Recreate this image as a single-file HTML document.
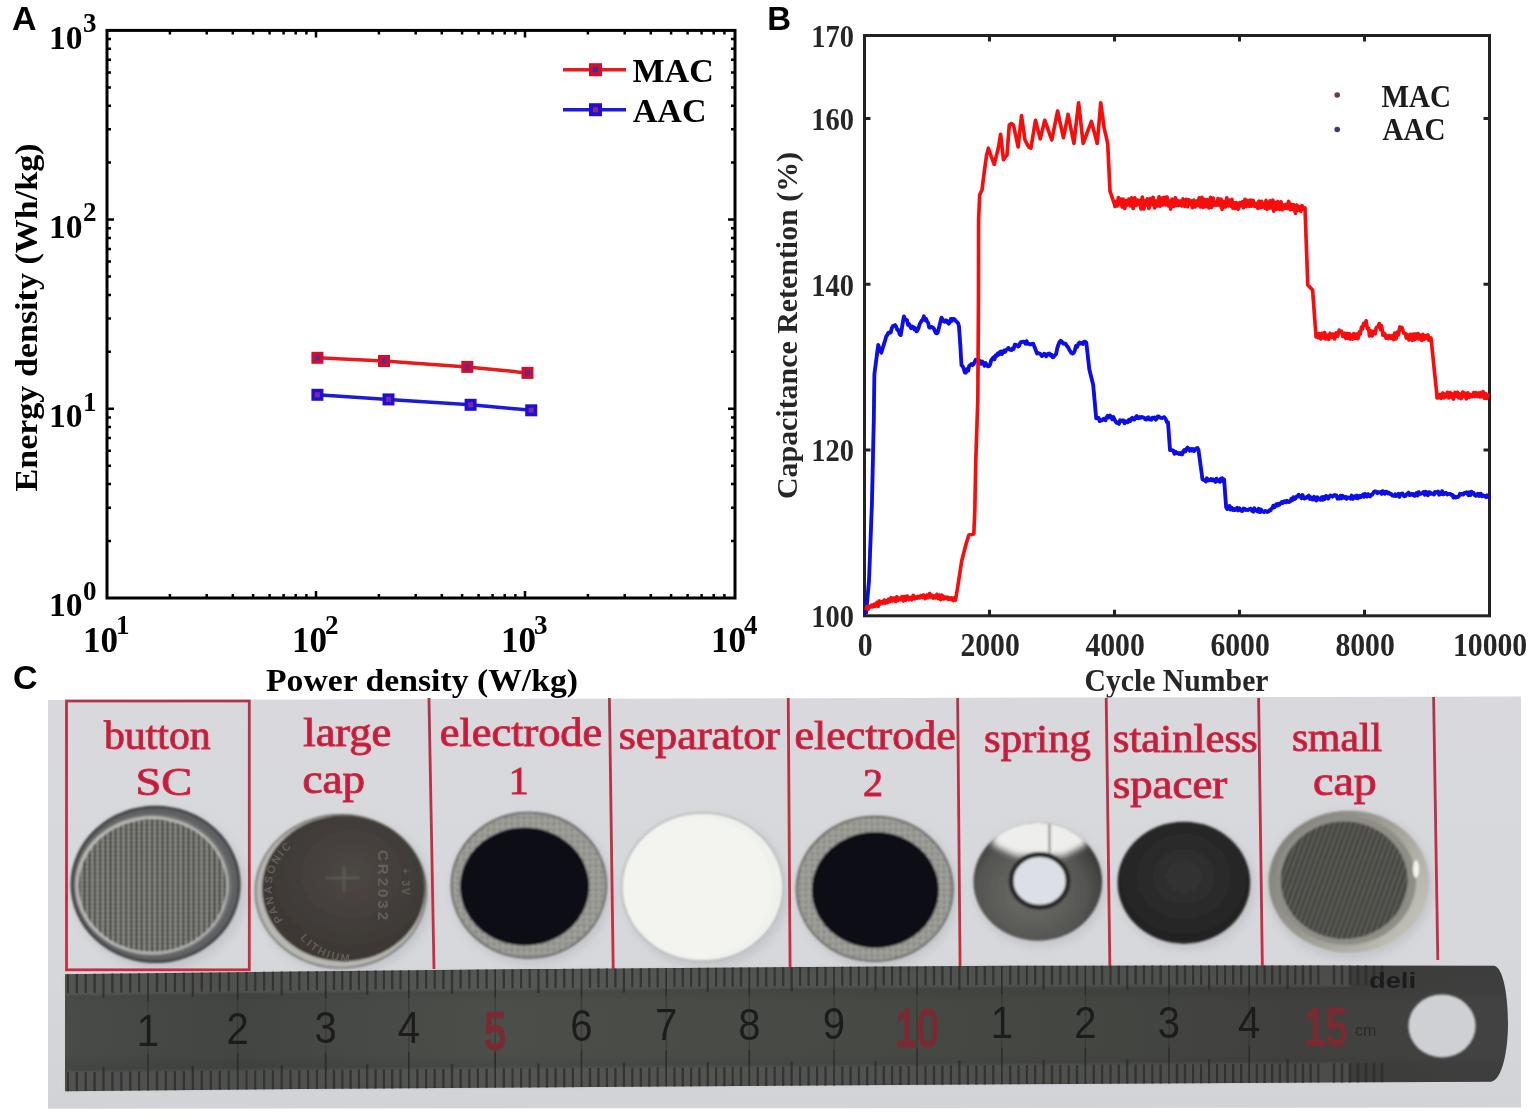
<!DOCTYPE html>
<html><head><meta charset="utf-8"><title>Figure</title>
<style>html,body{margin:0;padding:0;background:#fff;overflow:hidden;}svg{display:block;}</style></head>
<body><svg width="1535" height="1117" viewBox="0 0 1535 1117">
<rect width="1535" height="1117" fill="#fff"/>
<defs><filter id="pblur" x="0" y="0" width="100%" height="100%"><feGaussianBlur stdDeviation="0.45"/></filter></defs>
<g filter="url(#pblur)">
<text x="12" y="30" font-family='"Liberation Sans",Arial,sans-serif' font-weight="bold" font-size="34">A</text>
<rect x="107" y="30.4" width="628" height="567.6" fill="none" stroke="#000" stroke-width="3"/>
<path d="M169.9 598v-4M169.9 30.4v4M206.7 598v-4M206.7 30.4v4M232.8 598v-4M232.8 30.4v4M253.1 598v-4M253.1 30.4v4M269.6 598v-4M269.6 30.4v4M283.6 598v-4M283.6 30.4v4M295.7 598v-4M295.7 30.4v4M306.4 598v-4M306.4 30.4v4M316.0 598v-7M316.0 30.4v7M378.9 598v-4M378.9 30.4v4M415.7 598v-4M415.7 30.4v4M441.8 598v-4M441.8 30.4v4M462.1 598v-4M462.1 30.4v4M478.6 598v-4M478.6 30.4v4M492.6 598v-4M492.6 30.4v4M504.7 598v-4M504.7 30.4v4M515.4 598v-4M515.4 30.4v4M525.0 598v-7M525.0 30.4v7M587.9 598v-4M587.9 30.4v4M624.7 598v-4M624.7 30.4v4M650.8 598v-4M650.8 30.4v4M671.1 598v-4M671.1 30.4v4M687.6 598v-4M687.6 30.4v4M701.6 598v-4M701.6 30.4v4M713.7 598v-4M713.7 30.4v4M724.4 598v-4M724.4 30.4v4M107 541.0h4M735 541.0h-4M107 507.7h4M735 507.7h-4M107 484.1h4M735 484.1h-4M107 465.8h4M735 465.8h-4M107 450.8h4M735 450.8h-4M107 438.1h4M735 438.1h-4M107 427.1h4M735 427.1h-4M107 417.5h4M735 417.5h-4M107 408.8h7M735 408.8h-7M107 351.8h4M735 351.8h-4M107 318.5h4M735 318.5h-4M107 294.9h4M735 294.9h-4M107 276.6h4M735 276.6h-4M107 261.6h4M735 261.6h-4M107 248.9h4M735 248.9h-4M107 237.9h4M735 237.9h-4M107 228.3h4M735 228.3h-4M107 219.6h7M735 219.6h-7M107 162.6h4M735 162.6h-4M107 129.3h4M735 129.3h-4M107 105.7h4M735 105.7h-4M107 87.4h4M735 87.4h-4M107 72.4h4M735 72.4h-4M107 59.7h4M735 59.7h-4M107 48.7h4M735 48.7h-4M107 39.1h4M735 39.1h-4" stroke="#000" stroke-width="2.5" fill="none"/>
<text x="82.4" y="48.6" text-anchor="end" font-family='"Liberation Serif","Times New Roman",serif' font-weight="bold" font-size="33.5">10</text>
<text x="82.9" y="32.2" font-family='"Liberation Serif","Times New Roman",serif' font-weight="bold" font-size="27">3</text>
<text x="82.4" y="237.8" text-anchor="end" font-family='"Liberation Serif","Times New Roman",serif' font-weight="bold" font-size="33.5">10</text>
<text x="82.9" y="221.4" font-family='"Liberation Serif","Times New Roman",serif' font-weight="bold" font-size="27">2</text>
<text x="82.4" y="427.0" text-anchor="end" font-family='"Liberation Serif","Times New Roman",serif' font-weight="bold" font-size="33.5">10</text>
<text x="82.9" y="410.6" font-family='"Liberation Serif","Times New Roman",serif' font-weight="bold" font-size="27">1</text>
<text x="82.4" y="616.2" text-anchor="end" font-family='"Liberation Serif","Times New Roman",serif' font-weight="bold" font-size="33.5">10</text>
<text x="82.9" y="599.8" font-family='"Liberation Serif","Times New Roman",serif' font-weight="bold" font-size="27">0</text>
<text x="83.0" y="652" font-family='"Liberation Serif","Times New Roman",serif' font-weight="bold" font-size="35">10</text>
<text x="116.1" y="633.6" font-family='"Liberation Serif","Times New Roman",serif' font-weight="bold" font-size="27">1</text>
<text x="292.0" y="652" font-family='"Liberation Serif","Times New Roman",serif' font-weight="bold" font-size="35">10</text>
<text x="325.1" y="633.6" font-family='"Liberation Serif","Times New Roman",serif' font-weight="bold" font-size="27">2</text>
<text x="501.0" y="652" font-family='"Liberation Serif","Times New Roman",serif' font-weight="bold" font-size="35">10</text>
<text x="534.1" y="633.6" font-family='"Liberation Serif","Times New Roman",serif' font-weight="bold" font-size="27">3</text>
<text x="711.0" y="652" font-family='"Liberation Serif","Times New Roman",serif' font-weight="bold" font-size="35">10</text>
<text x="744.1" y="633.6" font-family='"Liberation Serif","Times New Roman",serif' font-weight="bold" font-size="27">4</text>
<text x="266" y="691.2" font-family='"Liberation Serif","Times New Roman",serif' font-weight="bold" font-size="32" textLength="312" lengthAdjust="spacingAndGlyphs">Power density (W/kg)</text>
<text transform="translate(36.5 491.5) rotate(-90)" x="0" y="0" font-family='"Liberation Serif","Times New Roman",serif' font-weight="bold" font-size="32" textLength="348" lengthAdjust="spacingAndGlyphs">Energy density (Wh/kg)</text>
<text x="12.9" y="688.7" font-family='"Liberation Sans",Arial,sans-serif' font-weight="bold" font-size="34">C</text>
<polyline points="317.4,357.8 384,361 467.3,366.9 527.5,372.9" fill="none" stroke="#e41a1a" stroke-width="3.5" stroke-linejoin="round"/>
<polyline points="317.4,394.8 388.5,399.4 470.6,404.8 531.2,410.3" fill="none" stroke="#1a1ad8" stroke-width="3.5" stroke-linejoin="round"/>
<rect x="311.4" y="351.8" width="12" height="12" fill="#d4102e"/><rect x="314.9" y="355.3" width="5" height="5" fill="#5a2a90"/>
<rect x="378" y="355" width="12" height="12" fill="#d4102e"/><rect x="381.5" y="358.5" width="5" height="5" fill="#5a2a90"/>
<rect x="461.3" y="360.9" width="12" height="12" fill="#d4102e"/><rect x="464.8" y="364.4" width="5" height="5" fill="#5a2a90"/>
<rect x="521.5" y="366.9" width="12" height="12" fill="#d4102e"/><rect x="525.0" y="370.4" width="5" height="5" fill="#5a2a90"/>
<rect x="311.4" y="388.8" width="12" height="12" fill="#2410d8"/><rect x="314.9" y="392.3" width="5" height="5" fill="#7a2a9a"/>
<rect x="382.5" y="393.4" width="12" height="12" fill="#2410d8"/><rect x="386.0" y="396.9" width="5" height="5" fill="#7a2a9a"/>
<rect x="464.6" y="398.8" width="12" height="12" fill="#2410d8"/><rect x="468.1" y="402.3" width="5" height="5" fill="#7a2a9a"/>
<rect x="525.2" y="404.3" width="12" height="12" fill="#2410d8"/><rect x="528.7" y="407.8" width="5" height="5" fill="#7a2a9a"/>
<path d="M563 69.7H626" stroke="#e41a1a" stroke-width="3.5"/><rect x="589" y="63.2" width="13" height="13" fill="#d4102e"/><rect x="593" y="67.2" width="5" height="5" fill="#3a2aa0"/>
<path d="M563 109.7H626" stroke="#1a1ad8" stroke-width="3.5"/><rect x="589" y="103.2" width="13" height="13" fill="#2410d8"/><rect x="593" y="107.2" width="5" height="5" fill="#8a2a7a"/>
<text x="632.5" y="82.3" font-family='"Liberation Serif","Times New Roman",serif' font-weight="bold" font-size="34">MAC</text>
<text x="632.8" y="122" font-family='"Liberation Serif","Times New Roman",serif' font-weight="bold" font-size="34">AAC</text>
<text x="767.3" y="29.7" font-family='"Liberation Sans",Arial,sans-serif' font-weight="bold" font-size="33">B</text>
<rect x="864.5" y="35.5" width="625.0" height="580.3" fill="none" stroke="#222" stroke-width="3"/>
<path d="M989.5 615.8v-6M989.5 35.5v6M1114.5 615.8v-6M1114.5 35.5v6M1239.5 615.8v-6M1239.5 35.5v6M1364.5 615.8v-6M1364.5 35.5v6M864.5 450.0h6M1489.5 450.0h-6M864.5 284.2h6M1489.5 284.2h-6M864.5 118.4h6M1489.5 118.4h-6" stroke="#222" stroke-width="3" fill="none"/>
<text transform="translate(854 627.1) scale(0.875 1)" text-anchor="end" font-family='"Liberation Serif","Times New Roman",serif' font-weight="bold" font-size="32.5" fill="#262626">100</text>
<text transform="translate(854 461.3) scale(0.875 1)" text-anchor="end" font-family='"Liberation Serif","Times New Roman",serif' font-weight="bold" font-size="32.5" fill="#262626">120</text>
<text transform="translate(854 295.5) scale(0.875 1)" text-anchor="end" font-family='"Liberation Serif","Times New Roman",serif' font-weight="bold" font-size="32.5" fill="#262626">140</text>
<text transform="translate(854 129.7) scale(0.875 1)" text-anchor="end" font-family='"Liberation Serif","Times New Roman",serif' font-weight="bold" font-size="32.5" fill="#262626">160</text>
<text transform="translate(854 46.8) scale(0.875 1)" text-anchor="end" font-family='"Liberation Serif","Times New Roman",serif' font-weight="bold" font-size="32.5" fill="#262626">170</text>
<text transform="translate(865.1 656) scale(0.9 1)" text-anchor="middle" font-family='"Liberation Serif","Times New Roman",serif' font-weight="bold" font-size="33" fill="#262626">0</text>
<text transform="translate(990.1 656) scale(0.9 1)" text-anchor="middle" font-family='"Liberation Serif","Times New Roman",serif' font-weight="bold" font-size="33" fill="#262626">2000</text>
<text transform="translate(1115.1 656) scale(0.9 1)" text-anchor="middle" font-family='"Liberation Serif","Times New Roman",serif' font-weight="bold" font-size="33" fill="#262626">4000</text>
<text transform="translate(1240.1 656) scale(0.9 1)" text-anchor="middle" font-family='"Liberation Serif","Times New Roman",serif' font-weight="bold" font-size="33" fill="#262626">6000</text>
<text transform="translate(1365.1 656) scale(0.9 1)" text-anchor="middle" font-family='"Liberation Serif","Times New Roman",serif' font-weight="bold" font-size="33" fill="#262626">8000</text>
<text transform="translate(1490.1 656) scale(0.9 1)" text-anchor="middle" font-family='"Liberation Serif","Times New Roman",serif' font-weight="bold" font-size="33" fill="#262626">10000</text>
<text x="1084.5" y="691.3" font-family='"Liberation Serif","Times New Roman",serif' font-weight="bold" font-size="32" fill="#262626" textLength="184" lengthAdjust="spacingAndGlyphs">Cycle Number</text>
<text transform="translate(797 499) rotate(-90)" x="0" y="0" font-family='"Liberation Serif","Times New Roman",serif' font-weight="bold" font-size="30" fill="#262626" textLength="347" lengthAdjust="spacingAndGlyphs">Capacitance Retention (%)</text>
<circle cx="1337.2" cy="95" r="2.8" fill="#6a3a48"/><circle cx="1337.2" cy="129.5" r="2.8" fill="#3a3a6a"/>
<text transform="translate(1381.5 106.5) scale(0.94 1)" font-family='"Liberation Serif","Times New Roman",serif' font-weight="bold" font-size="31" fill="#1a1a1a">MAC</text>
<text transform="translate(1382.5 140.2) scale(0.94 1)" font-family='"Liberation Serif","Times New Roman",serif' font-weight="bold" font-size="31" fill="#1a1a1a">AAC</text>
<polyline points="866.0,614.0 867.0,603.0 868.0,592.0 869.0,581.0 870.0,554.3 871.0,527.7 872.0,501.0 873.8,420.0 874.4,374.0 875.7,364.3 876.9,354.7 878.2,345.0 879.2,347.6 880.3,350.8 881.3,352.7 882.3,349.4 883.3,346.2 884.3,342.9 885.3,339.7 886.3,336.4 887.4,334.7 888.5,332.6 889.6,332.8 890.7,332.5 891.8,328.2 892.9,326.1 894.0,325.9 895.1,325.1 896.2,326.8 897.3,329.8 898.5,329.9 899.6,334.3 900.7,335.1 901.8,328.8 902.8,322.6 903.9,316.3 904.9,318.9 906.0,319.7 907.0,320.2 908.0,324.9 909.1,324.0 910.1,326.4 911.2,328.2 912.2,326.4 913.3,326.9 914.4,329.6 915.5,328.2 916.5,331.4 917.6,330.1 918.6,327.8 919.7,324.2 920.8,322.1 921.8,320.6 922.9,319.3 923.9,316.3 925.0,320.0 926.0,318.7 927.0,321.5 928.1,322.7 929.2,327.6 930.2,327.6 931.3,326.9 932.3,327.2 933.4,328.0 934.5,330.0 935.6,332.8 936.6,333.4 937.7,332.6 939.0,327.6 940.2,322.6 941.5,317.6 942.5,319.4 943.6,321.3 944.6,321.8 945.6,320.3 946.7,320.5 947.7,322.6 948.8,323.7 949.8,322.4 950.9,318.9 951.9,320.8 953.0,319.0 954.0,318.9 955.0,319.9 956.0,321.2 957.0,322.1 958.0,322.9 959.0,326.4 960.3,345.2 961.5,365.2 962.6,366.2 963.7,368.4 964.8,372.6 965.9,372.7 967.0,369.3 968.1,370.8 969.2,365.9 970.3,365.2 971.4,363.9 972.4,365.1 973.5,364.3 974.6,362.1 975.7,359.8 976.7,360.8 977.8,360.2 978.9,360.2 980.0,361.3 981.1,363.7 982.3,361.5 983.4,362.9 984.5,365.7 985.6,363.0 986.8,365.2 987.9,366.3 989.0,366.1 990.1,364.5 991.2,360.2 992.3,358.8 993.3,357.4 994.4,359.4 995.5,355.4 996.6,355.9 997.7,353.5 998.8,354.7 999.8,352.1 1000.9,351.5 1002.0,353.9 1003.1,352.1 1004.1,350.4 1005.2,351.8 1006.3,349.9 1007.4,349.3 1008.4,347.9 1009.5,349.5 1010.6,349.9 1011.6,350.0 1012.7,348.2 1013.7,348.9 1014.8,344.6 1015.9,344.8 1016.9,345.2 1018.0,346.5 1019.1,345.9 1020.1,343.0 1021.2,341.9 1022.2,342.0 1023.3,341.7 1024.4,341.9 1025.5,343.8 1026.6,341.1 1027.7,343.8 1028.8,343.7 1029.9,344.3 1031.0,344.3 1032.1,343.8 1033.2,343.6 1034.5,346.9 1035.8,350.2 1037.1,353.5 1038.3,353.2 1039.5,353.5 1040.6,354.1 1041.8,356.1 1043.0,355.4 1044.1,353.7 1045.1,354.2 1046.2,356.4 1047.3,354.4 1048.4,353.7 1049.4,353.5 1050.5,355.6 1051.6,354.7 1052.7,357.3 1053.7,356.9 1054.8,355.4 1056.0,354.4 1057.2,348.6 1058.3,344.9 1059.5,342.0 1060.7,340.7 1061.9,341.7 1063.1,343.5 1064.2,343.4 1065.4,343.6 1066.6,345.6 1067.8,346.8 1069.0,349.2 1070.1,351.0 1071.3,352.9 1072.5,353.5 1073.7,352.9 1074.9,350.2 1076.0,346.0 1077.2,346.9 1078.4,343.6 1079.5,342.6 1080.7,343.6 1081.8,342.7 1082.9,344.0 1084.0,341.7 1085.2,341.7 1086.3,342.6 1087.3,351.5 1088.3,360.3 1089.3,369.2 1090.6,374.5 1091.9,379.7 1093.2,385.0 1094.2,396.1 1095.2,407.3 1096.2,418.4 1097.4,417.8 1098.6,417.8 1099.7,421.1 1100.9,420.3 1102.1,420.4 1103.2,419.0 1104.4,418.6 1105.5,420.3 1106.6,417.6 1107.7,415.8 1108.9,417.4 1110.0,415.5 1111.1,417.1 1112.2,419.4 1113.3,416.9 1114.5,419.3 1115.6,421.7 1116.7,422.8 1117.8,422.4 1118.9,423.9 1120.1,420.3 1121.2,421.1 1122.3,420.3 1123.4,420.4 1124.6,423.4 1125.7,421.4 1126.8,421.3 1127.9,422.3 1129.0,419.6 1130.1,421.1 1131.1,419.0 1132.2,417.8 1133.3,419.5 1134.4,419.7 1135.5,417.5 1136.6,416.1 1137.6,418.2 1138.7,418.4 1139.7,417.0 1140.8,417.7 1141.9,416.9 1142.9,417.3 1144.0,417.7 1145.1,419.2 1146.1,419.6 1147.2,417.9 1148.2,417.3 1149.3,419.4 1150.4,418.6 1151.4,419.8 1152.5,417.7 1153.5,418.1 1154.6,417.5 1155.7,419.7 1156.7,418.6 1157.8,416.5 1158.9,416.5 1159.9,417.5 1161.0,418.0 1162.0,418.2 1163.1,417.5 1164.3,417.1 1165.5,418.6 1166.8,422.0 1168.0,422.4 1169.0,436.2 1170.0,450.0 1171.1,450.1 1172.2,450.1 1173.3,450.7 1174.5,453.8 1175.6,451.7 1176.7,453.2 1177.8,452.8 1178.9,453.9 1180.0,453.0 1181.1,454.3 1182.2,454.3 1183.3,451.2 1184.3,450.0 1185.4,451.5 1186.5,448.9 1187.6,447.6 1188.7,449.0 1189.8,450.7 1190.9,448.9 1192.0,450.6 1193.1,449.1 1194.1,451.1 1195.2,449.5 1196.3,448.4 1197.4,447.9 1198.5,450.0 1199.5,457.4 1200.5,464.8 1201.5,472.1 1202.5,479.5 1203.6,479.8 1204.7,480.3 1205.8,481.5 1206.9,478.3 1207.9,480.5 1209.0,479.7 1210.1,480.3 1211.2,479.0 1212.3,480.5 1213.4,479.5 1214.4,480.4 1215.5,481.9 1216.6,478.6 1217.7,480.0 1218.7,481.2 1219.8,481.7 1220.9,478.6 1222.0,478.2 1223.0,481.4 1224.1,479.5 1225.1,493.2 1226.1,507.0 1227.2,509.1 1228.3,507.4 1229.4,505.9 1230.5,509.6 1231.6,507.7 1232.7,510.0 1233.8,509.0 1234.9,510.1 1236.0,509.0 1237.1,507.8 1238.2,510.4 1239.3,508.2 1240.4,509.1 1241.4,510.9 1242.5,511.0 1243.6,508.5 1244.7,508.8 1245.8,510.0 1246.9,509.6 1247.9,510.1 1249.0,509.6 1250.1,508.6 1251.2,509.1 1252.2,511.0 1253.3,511.7 1254.4,508.3 1255.4,510.4 1256.5,510.2 1257.6,511.4 1258.7,508.7 1259.8,512.1 1260.9,509.4 1262.0,511.5 1263.0,511.5 1264.1,512.0 1265.2,510.9 1266.3,511.5 1267.4,512.0 1268.4,511.6 1269.4,510.2 1270.4,510.4 1271.4,508.8 1272.4,508.0 1273.4,505.6 1274.4,507.3 1275.4,506.0 1276.4,504.2 1277.4,505.6 1278.4,503.8 1279.5,504.7 1280.6,503.3 1281.7,502.0 1282.8,503.0 1283.8,501.3 1284.9,501.2 1286.0,502.3 1287.1,500.7 1288.2,501.9 1289.3,502.0 1290.3,501.3 1291.4,498.6 1292.4,500.2 1293.5,497.2 1294.5,499.0 1295.6,498.4 1296.6,496.5 1297.6,496.5 1298.6,494.7 1299.6,496.5 1300.6,496.0 1301.6,498.3 1302.6,495.0 1303.6,497.9 1304.6,498.5 1305.6,497.4 1306.6,497.8 1307.6,496.5 1308.7,495.6 1309.8,499.0 1310.9,497.3 1312.0,499.4 1313.0,499.6 1314.1,496.8 1315.2,499.6 1316.3,500.5 1317.4,497.3 1318.5,499.3 1319.6,498.4 1320.7,499.8 1321.8,497.1 1322.9,499.8 1324.0,497.0 1325.0,498.9 1326.1,495.9 1327.2,497.1 1328.3,498.5 1329.4,496.5 1330.4,495.4 1331.4,495.7 1332.5,496.7 1333.5,496.0 1334.5,494.9 1335.5,495.6 1336.5,495.5 1337.5,498.7 1338.6,497.7 1339.6,498.6 1340.6,495.8 1341.6,498.3 1342.6,495.7 1343.6,497.4 1344.7,497.9 1345.7,496.8 1346.7,498.9 1347.7,497.5 1348.7,497.6 1349.7,497.6 1350.7,498.7 1351.7,495.5 1352.8,498.9 1353.8,497.4 1354.8,496.3 1355.8,497.8 1356.8,495.6 1357.8,498.4 1358.8,496.6 1359.8,495.7 1360.8,497.2 1361.9,495.8 1362.9,494.6 1363.9,496.8 1364.9,493.9 1365.9,495.6 1366.9,496.6 1368.0,494.1 1369.0,495.4 1370.1,496.5 1371.1,494.7 1372.2,494.7 1373.2,493.1 1374.2,491.6 1375.3,491.4 1376.3,491.6 1377.4,493.2 1378.4,492.2 1379.5,492.3 1380.5,492.0 1381.6,493.9 1382.6,491.1 1383.7,491.8 1384.8,493.8 1385.8,491.6 1386.9,491.8 1388.0,493.5 1389.0,492.8 1390.1,494.1 1391.2,493.9 1392.2,495.6 1393.3,495.6 1394.3,495.9 1395.3,494.3 1396.3,495.9 1397.4,495.2 1398.4,493.8 1399.4,496.9 1400.4,494.1 1401.4,493.7 1402.4,493.4 1403.4,495.5 1404.5,496.4 1405.5,495.9 1406.5,494.3 1407.5,493.7 1408.5,492.6 1409.5,495.1 1410.6,494.7 1411.6,493.8 1412.6,494.9 1413.6,494.0 1414.6,495.9 1415.6,495.1 1416.6,493.1 1417.7,495.6 1418.7,492.1 1419.7,494.0 1420.7,493.8 1421.7,493.4 1422.7,492.7 1423.8,491.9 1424.8,494.8 1425.8,491.7 1426.8,493.8 1427.8,495.3 1428.9,492.1 1429.9,492.3 1430.9,493.9 1431.9,493.4 1432.9,493.9 1434.0,494.6 1435.0,492.0 1436.0,492.5 1437.0,492.4 1438.0,491.4 1439.1,494.7 1440.1,494.2 1441.1,493.9 1442.1,491.1 1443.1,494.4 1444.2,494.0 1445.2,492.8 1446.2,492.9 1447.2,494.5 1448.3,494.0 1449.3,493.8 1450.4,493.9 1451.4,495.1 1452.5,495.0 1453.5,497.5 1454.6,496.4 1455.7,497.6 1456.8,496.9 1457.9,497.0 1459.0,496.0 1460.0,493.8 1461.1,494.5 1462.2,493.6 1463.3,494.5 1464.4,492.9 1465.4,493.1 1466.5,492.2 1467.5,493.8 1468.5,495.2 1469.5,492.3 1470.6,495.1 1471.6,491.7 1472.6,492.8 1473.6,492.9 1474.7,495.0 1475.7,495.9 1476.7,495.2 1477.7,493.7 1478.8,496.0 1479.8,493.9 1480.8,493.7 1481.8,496.4 1482.8,495.4 1483.9,495.8 1484.9,495.8 1485.9,497.2 1487.0,495.3 1488.0,496.8 1489.0,495.6" fill="none" stroke="#0808e8" stroke-width="3.8" stroke-linejoin="round"/>
<polyline points="866.0,610.2 867.0,606.5 868.0,609.4 869.2,606.4 870.5,606.9 871.7,605.1 872.7,606.9 874.3,604.2 875.4,606.4 877.0,602.4 878.2,606.3 879.2,601.1 880.3,603.9 881.3,601.6 882.9,603.1 884.2,600.0 885.4,603.1 886.4,600.5 887.5,602.7 888.7,599.2 890.1,601.5 891.2,597.7 892.7,600.8 894.0,598.0 895.6,601.5 896.8,596.8 897.8,600.6 899.3,598.2 900.5,599.5 902.0,596.7 903.3,601.0 904.5,596.6 905.9,600.1 907.1,596.0 908.8,599.6 910.2,597.3 911.7,599.7 913.3,595.4 914.5,598.9 915.9,596.8 917.2,598.2 918.2,596.5 919.7,597.8 920.8,595.6 922.4,597.4 923.6,595.0 925.2,598.7 926.8,595.2 928.1,597.5 929.7,593.5 930.7,597.0 931.8,595.2 933.1,598.1 934.2,596.0 935.4,597.9 936.8,594.3 938.2,598.6 939.6,595.2 940.6,599.7 942.1,595.1 943.6,599.0 944.8,597.0 946.2,598.6 947.2,597.1 948.2,599.4 949.2,597.8 950.2,599.2 951.4,598.0 953.0,600.6 954.0,597.8 955.5,600.0 957.7,587.0 961.7,561.0 965.8,545.0 968.8,535.0 973.8,534.0 974.8,511.0 975.8,460.0 977.8,400.0 978.5,300.0 978.6,220.0 979.7,194.7 982.0,190.0 984.3,171.5 986.6,155.2 988.4,148.2 990.7,155.2 992.5,159.8 994.2,164.5 996.2,156.3 998.3,148.2 1000.6,134.2 1003.5,159.8 1005.2,157.0 1007.0,155.2 1009.3,124.9 1011.3,123.5 1013.4,124.9 1015.8,135.9 1018.1,147.0 1019.8,131.3 1021.5,115.6 1023.2,127.8 1025.0,140.0 1027.0,144.0 1028.9,147.2 1030.9,148.2 1033.2,134.2 1035.5,120.3 1037.8,129.6 1040.2,138.9 1042.5,129.6 1044.8,120.3 1046.5,125.2 1048.3,130.2 1050.0,135.1 1051.8,140.0 1053.7,130.3 1055.7,120.7 1057.6,111.0 1059.5,119.9 1061.5,128.8 1063.4,137.7 1065.8,126.0 1068.1,114.4 1070.0,124.1 1072.0,133.8 1073.9,143.5 1076.2,123.2 1078.6,102.8 1080.9,123.2 1083.2,143.5 1084.8,139.1 1086.5,134.7 1088.1,130.2 1089.8,125.8 1091.4,121.4 1093.3,128.8 1095.3,136.1 1097.2,143.5 1099.0,123.2 1100.7,102.8 1102.5,115.6 1104.2,128.4 1106.0,135.9 1107.7,143.5 1110.0,191.2 1114.7,205.0 1115.0,206.6 1116.3,201.3 1117.3,205.9 1118.4,197.6 1119.4,204.4 1121.1,199.1 1122.1,206.9 1123.0,199.1 1124.7,208.5 1126.2,200.5 1127.4,205.1 1128.9,199.1 1130.4,205.9 1131.5,197.7 1133.2,208.5 1134.7,197.7 1136.2,205.4 1137.5,200.0 1138.4,204.4 1139.6,200.5 1141.0,209.0 1142.3,197.1 1143.9,209.0 1145.1,200.7 1146.2,205.2 1147.3,198.7 1148.9,208.4 1150.2,198.5 1151.7,204.7 1153.1,197.2 1154.7,208.0 1155.9,200.9 1157.5,205.9 1159.0,196.9 1160.2,206.2 1161.9,198.2 1162.9,204.9 1163.9,197.3 1165.5,205.0 1167.0,196.9 1168.5,206.0 1169.8,201.1 1170.7,209.1 1172.1,199.1 1173.8,206.4 1175.4,197.7 1176.4,205.5 1177.6,200.6 1178.9,205.5 1180.2,201.1 1181.8,206.0 1183.1,198.9 1184.7,206.3 1186.3,199.3 1187.6,206.8 1188.6,199.6 1189.6,204.3 1191.1,200.9 1192.4,207.8 1193.8,200.1 1195.1,207.0 1196.6,201.2 1198.0,205.5 1199.1,197.9 1200.4,207.0 1201.9,197.3 1203.1,207.4 1204.5,199.4 1205.9,206.7 1207.2,199.6 1208.9,208.0 1210.5,197.4 1211.6,207.4 1213.2,198.0 1214.2,205.3 1215.5,201.9 1216.6,205.2 1218.0,198.5 1219.6,205.7 1221.1,199.2 1222.1,209.4 1223.8,201.5 1225.4,207.1 1226.7,197.7 1228.3,206.0 1229.5,200.2 1230.7,206.2 1231.9,199.2 1232.8,208.1 1234.1,202.8 1235.2,208.5 1236.5,202.7 1238.2,209.4 1239.9,202.6 1241.0,205.8 1242.5,201.8 1243.5,207.8 1245.1,199.2 1246.3,206.5 1247.9,200.5 1249.3,206.3 1250.3,200.0 1251.5,206.3 1253.2,200.4 1254.7,206.5 1256.3,203.3 1257.9,208.4 1259.0,201.0 1260.7,207.6 1261.7,201.3 1262.8,207.0 1263.8,203.8 1264.9,208.1 1266.0,200.4 1267.2,209.2 1268.2,202.6 1269.1,208.1 1270.1,200.8 1271.4,208.0 1272.7,200.0 1273.7,211.2 1274.9,202.3 1276.5,209.3 1277.8,201.6 1279.5,209.3 1281.0,201.7 1282.4,209.8 1283.6,205.1 1284.6,208.3 1286.1,204.3 1287.2,208.5 1288.7,201.4 1290.2,209.7 1291.3,204.4 1292.5,209.2 1293.8,204.8 1295.4,213.5 1296.8,205.1 1298.4,210.4 1299.6,206.5 1300.8,211.4 1302.1,205.6 1303.4,209.2 1305.0,208.0 1307.8,285.0 1312.6,290.0 1316.0,336.0 1316.0,337.0 1317.2,335.2 1318.1,337.6 1319.2,333.6 1320.6,338.9 1322.0,333.3 1323.6,337.9 1324.7,332.5 1325.8,338.9 1327.2,335.3 1328.7,339.4 1330.1,333.3 1331.7,337.3 1333.0,334.0 1334.6,339.0 1336.1,332.8 1337.7,336.1 1339.2,330.2 1340.1,332.3 1341.3,331.1 1342.9,336.6 1344.3,333.1 1345.7,338.3 1346.6,333.2 1348.1,338.4 1349.4,333.7 1350.4,339.1 1351.5,335.4 1352.6,339.1 1353.7,333.5 1355.4,338.4 1356.6,334.1 1358.0,338.6 1359.4,331.8 1360.4,333.8 1361.5,327.1 1362.6,328.9 1363.6,323.2 1364.7,325.2 1366.1,320.8 1367.3,328.5 1368.5,328.0 1369.5,335.9 1370.6,330.8 1372.2,336.0 1373.5,331.4 1375.2,333.7 1376.3,327.6 1377.9,326.7 1379.3,323.5 1380.6,329.9 1381.6,325.7 1382.9,335.3 1384.4,333.3 1386.0,338.2 1386.9,335.7 1388.2,338.6 1389.4,335.5 1390.6,338.3 1392.1,335.9 1393.6,339.7 1394.6,333.0 1396.1,338.8 1397.2,332.1 1398.4,335.0 1399.8,326.9 1401.1,329.3 1402.0,327.5 1403.6,333.1 1405.2,333.2 1406.3,338.1 1407.4,334.7 1409.0,340.0 1410.6,334.3 1412.2,340.3 1413.5,334.1 1414.5,339.7 1415.8,334.0 1417.2,338.4 1418.1,333.5 1419.1,339.0 1420.3,335.3 1421.8,340.5 1422.9,334.3 1424.0,339.3 1425.3,335.8 1426.3,338.3 1427.9,334.8 1429.0,340.3 1431.0,338.0 1436.6,392.0 1437.0,398.0 1438.0,394.7 1439.0,397.7 1440.0,394.5 1441.1,398.3 1442.7,393.0 1443.9,397.8 1445.2,394.0 1446.4,396.7 1447.5,392.3 1448.6,397.9 1450.0,392.5 1451.0,397.2 1452.1,393.8 1453.4,399.2 1455.0,392.4 1455.9,396.4 1457.4,392.3 1458.6,398.0 1459.5,393.7 1461.2,398.6 1462.8,392.0 1463.9,396.5 1464.9,393.2 1466.3,398.9 1467.8,392.8 1469.3,397.4 1470.7,394.5 1472.2,396.7 1473.8,392.7 1474.9,396.4 1476.1,392.7 1477.5,396.3 1478.5,393.0 1479.8,397.0 1480.9,392.7 1481.8,396.7 1483.1,391.6 1484.5,398.4 1485.8,393.7 1486.9,398.5 1488.4,393.4" fill="none" stroke="#f80808" stroke-width="3.6" stroke-linejoin="round"/>
</g>
<defs>
<linearGradient id="bg" x1="0" y1="0" x2="0" y2="1">
 <stop offset="0" stop-color="#d9d9dd"/><stop offset="0.6" stop-color="#d6d8dc"/><stop offset="1" stop-color="#d2d3d6"/></linearGradient>
<filter id="blur1" x="-10%" y="-10%" width="120%" height="120%"><feGaussianBlur stdDeviation="0.9"/></filter>
<filter id="blur05" x="-5%" y="-5%" width="110%" height="110%"><feGaussianBlur stdDeviation="0.6"/></filter>
<filter id="shadow" x="-30%" y="-30%" width="160%" height="160%"><feGaussianBlur stdDeviation="5"/></filter><filter id="blur3" x="-30%" y="-30%" width="160%" height="160%"><feGaussianBlur stdDeviation="3"/></filter>
<pattern id="mesh" width="5.2" height="4.4" patternUnits="userSpaceOnUse"><rect width="5.2" height="4.4" fill="#9a9a96"/><path d="M0 2.2H5.2" stroke="#5e5e5a" stroke-width="1"/><path d="M1.3 0V4.4" stroke="#3e3e3a" stroke-width="2.5"/></pattern>
<pattern id="mesh2" width="5" height="5" patternUnits="userSpaceOnUse" patternTransform="rotate(-70)"><rect width="5" height="5" fill="#42423d"/><path d="M0 1.2H5" stroke="#6a6a63" stroke-width="1.6"/></pattern>
<radialGradient id="btnrim" cx="0.55" cy="0.55" r="0.6"><stop offset="0.85" stop-color="#5c5e60"/><stop offset="1" stop-color="#303236"/></radialGradient>
<linearGradient id="ruler" x1="0" y1="0" x2="1" y2="0">
 <stop offset="0" stop-color="#4c4e4b"/><stop offset="0.12" stop-color="#464845"/><stop offset="0.3" stop-color="#4f514d"/><stop offset="0.5" stop-color="#4b4d49"/><stop offset="0.7" stop-color="#474945"/><stop offset="0.85" stop-color="#434441"/><stop offset="1" stop-color="#454545"/></linearGradient>
<linearGradient id="rulerv" x1="0" y1="0" x2="0" y2="1">
 <stop offset="0" stop-color="#000" stop-opacity="0.12"/><stop offset="0.2" stop-color="#000" stop-opacity="0.1"/><stop offset="0.3" stop-color="#000" stop-opacity="0.04"/><stop offset="0.7" stop-color="#000" stop-opacity="0.04"/><stop offset="0.8" stop-color="#000" stop-opacity="0.1"/><stop offset="1" stop-color="#000" stop-opacity="0.12"/></linearGradient>
<radialGradient id="capface" cx="0.55" cy="0.4" r="0.65"><stop offset="0" stop-color="#4c4743"/><stop offset="1" stop-color="#3a3531"/></radialGradient>
<radialGradient id="spacerg" cx="0.5" cy="0.45" r="0.55"><stop offset="0" stop-color="#343434"/><stop offset="1" stop-color="#222222"/></radialGradient>
<radialGradient id="springb" cx="0.45" cy="0.6" r="0.6"><stop offset="0" stop-color="#6e6e6a"/><stop offset="0.7" stop-color="#555552"/><stop offset="1" stop-color="#3a3a38"/></radialGradient>
<linearGradient id="smallrim" x1="0" y1="0" x2="1" y2="0.6">
 <stop offset="0" stop-color="#7a7a74"/><stop offset="0.5" stop-color="#98988f"/><stop offset="1" stop-color="#bebeb4"/></linearGradient>
<pattern id="speck" width="6" height="6" patternUnits="userSpaceOnUse"><rect width="6" height="6" fill="#9a9a94"/><rect x="1" y="1" width="2" height="2" fill="#7c7c76"/><rect x="4" y="3" width="1.5" height="2" fill="#b0b0aa"/></pattern>
</defs>
<polygon points="48,700 1521,696.5 1521,1107.5 48,1108.8" fill="url(#bg)"/>
<ellipse cx="160" cy="890" rx="86" ry="80" fill="#9a9ca2" opacity="0.3" filter="url(#shadow)"/>
<ellipse cx="345" cy="896" rx="88" ry="78" fill="#9a9ca2" opacity="0.3" filter="url(#shadow)"/>
<ellipse cx="532" cy="890" rx="80" ry="75" fill="#9a9ca2" opacity="0.3" filter="url(#shadow)"/>
<ellipse cx="706" cy="892" rx="82" ry="76" fill="#9a9ca2" opacity="0.3" filter="url(#shadow)"/>
<ellipse cx="878" cy="893" rx="80" ry="75" fill="#9a9ca2" opacity="0.3" filter="url(#shadow)"/>
<ellipse cx="1040" cy="886" rx="66" ry="61" fill="#9a9ca2" opacity="0.3" filter="url(#shadow)"/>
<ellipse cx="1187" cy="887" rx="68" ry="63" fill="#9a9ca2" opacity="0.3" filter="url(#shadow)"/>
<ellipse cx="1350" cy="886" rx="83" ry="74" fill="#9a9ca2" opacity="0.3" filter="url(#shadow)"/>
<g filter="url(#blur1)">
<ellipse cx="155.6" cy="884.4" rx="83.7" ry="77.4" fill="#5e6062" stroke="#3a3c3e" stroke-width="2.5"/>
<ellipse cx="153" cy="885" rx="79" ry="71.5" fill="#707274"/>
<ellipse cx="152" cy="885.3" rx="76.5" ry="69" fill="#bdbdb8"/>
<ellipse cx="152.5" cy="885.6" rx="74" ry="66.5" fill="url(#mesh)"/>
</g>
<g filter="url(#blur1)">
<ellipse cx="340.9" cy="891.3" rx="85.4" ry="76.5" fill="#b8b8b2" stroke="#6a6a66" stroke-width="1.5"/>
<ellipse cx="343.5" cy="888.5" rx="81.5" ry="73" fill="url(#capface)"/>
<path d="M326 878h34M344 866v26" stroke="#6e6a64" stroke-width="1.6" opacity="0.8"/>
</g>
<path id="capArc1" d="M283 920 A62 56 0 0 1 335 832" fill="none"/>
<path id="capArc2" d="M300 938 A62 56 0 0 0 392 948" fill="none"/>
<g font-family='"Liberation Sans",Arial,sans-serif' font-weight="bold" font-size="11" fill="#6e6a63" opacity="0.75" filter="url(#blur05)" letter-spacing="2"><text><textPath href="#capArc1">PANASONIC</textPath></text><text><textPath href="#capArc2">LITHIUM</textPath></text><text transform="translate(378 850) rotate(90)" font-size="15" letter-spacing="3">CR2032</text><text transform="translate(402 868) rotate(90)" font-size="10" letter-spacing="2">+ 3V</text></g>
<g filter="url(#blur1)">
<ellipse cx="528.9" cy="885.2" rx="78.3" ry="73.5" fill="url(#speck)"/>
<ellipse cx="528.9" cy="885.2" rx="77.3" ry="72.5" fill="none" stroke="#6e6e6a" stroke-width="2"/>
<ellipse cx="524.6" cy="886.5" rx="64.5" ry="59" fill="#0c0c15"/>
</g>
<g filter="url(#blur1)">
<ellipse cx="702.4" cy="887" rx="80.7" ry="74.1" fill="#eff1ed" stroke="#b4b8b8" stroke-width="1.5"/>
<ellipse cx="698" cy="887" rx="74" ry="70" fill="#f3f4f0"/>
</g>
<g filter="url(#blur1)">
<ellipse cx="874.7" cy="888.9" rx="79" ry="73.1" fill="url(#speck)"/>
<ellipse cx="874.7" cy="888.9" rx="78" ry="72.1" fill="none" stroke="#6e6e6a" stroke-width="2"/>
<ellipse cx="875.3" cy="890" rx="63.4" ry="58" fill="#0b0b14"/>
</g>
<clipPath id="springclip"><ellipse cx="1037.8" cy="881.8" rx="64.3" ry="58.9"/></clipPath>
<g filter="url(#blur1)">
<ellipse cx="1037.8" cy="881.8" rx="64.3" ry="58.9" fill="url(#springb)"/>
<g clip-path="url(#springclip)"><path d="M996 815L1088 815L1086 845L1064 856L1016 856L992 845Z" fill="#eeefed" filter="url(#blur3)"/><path d="M1049 816L1050 856" stroke="#8c8c8a" stroke-width="7" filter="url(#blur3)"/></g>
<ellipse cx="1039.6" cy="880.9" rx="28.5" ry="26.4" fill="#dcdfe5" stroke="#2a2a2a" stroke-width="5"/>
</g>
<ellipse cx="1183.9" cy="882.7" rx="66.3" ry="61" fill="url(#spacerg)" filter="url(#blur1)"/>
<g filter="url(#blur1)">
<ellipse cx="1348.8" cy="881.6" rx="80.2" ry="70.9" fill="url(#smallrim)"/>
<ellipse cx="1346" cy="880.5" rx="70" ry="64.5" fill="#8e8e86"/>
<ellipse cx="1344.2" cy="880.2" rx="63.4" ry="58.7" fill="url(#mesh2)"/>
<ellipse cx="1416" cy="869" rx="3" ry="9" fill="#f4f4ee" filter="url(#blur05)"/>
</g>
<linearGradient id="redl" gradientUnits="userSpaceOnUse" x1="0" y1="698" x2="0" y2="969"><stop offset="0" stop-color="#b03448"/><stop offset="1" stop-color="#cc2c40"/></linearGradient>
<g filter="url(#blur05)"><path d="M428.95 698L434.0 969M609.4 698L613.2 969M788.25 698L790.1 969M957.65 698L960.1 969M1106.2 698L1109.9 969M1258.6 698L1262.4 969M1433.6 697L1437.8 960" stroke="url(#redl)" stroke-width="2.8" fill="none"/>
<rect x="66.5" y="701" width="182.8" height="268.8" fill="none" stroke="url(#redl)" stroke-width="2.8"/></g>
<g font-family='"Liberation Serif","Times New Roman",serif' font-size="40" fill="#c21e3a" stroke="#d02a46" stroke-width="1.0" filter="url(#blur05)">
<text x="104.0" y="749" textLength="106.7" lengthAdjust="spacingAndGlyphs">button</text>
<text x="135.6" y="795" textLength="56.7" lengthAdjust="spacingAndGlyphs">SC</text>
<text x="303.3" y="745.8" textLength="88.0" lengthAdjust="spacingAndGlyphs">large</text>
<text x="302.4" y="792.8" textLength="62.6" lengthAdjust="spacingAndGlyphs">cap</text>
<text x="439.8" y="745.8" textLength="162.4" lengthAdjust="spacingAndGlyphs">electrode</text>
<text x="618.7" y="749.4" textLength="161.3" lengthAdjust="spacingAndGlyphs">separator</text>
<text x="794.6" y="749.4" textLength="161.2" lengthAdjust="spacingAndGlyphs">electrode</text>
<text x="984.1" y="752" textLength="106.8" lengthAdjust="spacingAndGlyphs">spring</text>
<text x="1112.8" y="752" textLength="144.9" lengthAdjust="spacingAndGlyphs">stainless</text>
<text x="1112.7" y="797.7" textLength="114.6" lengthAdjust="spacingAndGlyphs">spacer</text>
<text x="1291.9" y="750.5" textLength="90.3" lengthAdjust="spacingAndGlyphs">small</text>
<text x="1313.0" y="794.5" textLength="63.8" lengthAdjust="spacingAndGlyphs">cap</text>
<text x="518.7" y="794" text-anchor="middle">1</text>
<text x="873" y="796.4" text-anchor="middle">2</text>
</g>
<path d="M65 974.2 L300 971.4 L530 969.1 L800 967.1 L1010 965.8 L1250 965.5 L1494 965.8 C1503 967 1508 995 1508 1023 C1508 1052 1502 1080 1491 1081.7 L1010 1084.2 L630 1086.8 L300 1089 L65 1091.2Z" fill="url(#ruler)"/>
<path d="M65 974.2 L300 971.4 L530 969.1 L800 967.1 L1010 965.8 L1250 965.5 L1494 965.8 C1503 967 1508 995 1508 1023 C1508 1052 1502 1080 1491 1081.7 L1010 1084.2 L630 1086.8 L300 1089 L65 1091.2Z" fill="url(#rulerv)"/>
<g filter="url(#blur1)"><path d="M65 974.2 L105 973.7 L145 973.2 L185 972.8 L225 972.3 L265 971.8 L305 971.4 L345 970.9 L385 970.5 L425 970.1 L465 969.8 L505 969.4 L545 969.0 L585 968.7 L625 968.4 L665 968.1 L705 967.8 L745 967.5 L785 967.2 L825 966.9 L865 966.7 L905 966.5 L945 966.2 L985 966.0 L1025 965.8 L1065 965.7 L1105 965.7 L1145 965.6 L1185 965.6 L1225 965.5 L1265 965.5 L1305 965.6 L1345 965.6 L1350 965.6 L1350 986.6 L1345 986.6 L1305 986.6 L1265 986.5 L1225 986.5 L1185 986.6 L1145 986.6 L1105 986.7 L1065 986.7 L1025 986.8 L985 987.0 L945 987.2 L905 987.5 L865 987.7 L825 987.9 L785 988.2 L745 988.5 L705 988.8 L665 989.1 L625 989.4 L585 989.7 L545 990.0 L505 990.4 L465 990.8 L425 991.1 L385 991.5 L345 991.9 L305 992.4 L265 992.8 L225 993.3 L185 993.8 L145 994.2 L105 994.7 L65 995.2Z" fill="#8a8c8a" opacity="0.22"/><path d="M65 1091.2 L105 1090.8 L145 1090.5 L185 1090.1 L225 1089.7 L265 1089.3 L305 1089.0 L345 1088.7 L385 1088.4 L425 1088.2 L465 1087.9 L505 1087.6 L545 1087.4 L585 1087.1 L625 1086.8 L665 1086.6 L705 1086.3 L745 1086.0 L785 1085.7 L825 1085.5 L865 1085.2 L905 1084.9 L945 1084.6 L985 1084.4 L1025 1084.1 L1065 1083.9 L1105 1083.7 L1145 1083.5 L1185 1083.3 L1225 1083.1 L1265 1082.9 L1305 1082.7 L1345 1082.5 L1350 1082.4 L1350 1062.4 L1345 1062.5 L1305 1062.7 L1265 1062.9 L1225 1063.1 L1185 1063.3 L1145 1063.5 L1105 1063.7 L1065 1063.9 L1025 1064.1 L985 1064.4 L945 1064.6 L905 1064.9 L865 1065.2 L825 1065.5 L785 1065.7 L745 1066.0 L705 1066.3 L665 1066.6 L625 1066.8 L585 1067.1 L545 1067.4 L505 1067.6 L465 1067.9 L425 1068.2 L385 1068.4 L345 1068.7 L305 1069.0 L265 1069.3 L225 1069.7 L185 1070.1 L145 1070.5 L105 1070.8 L65 1071.2Z" fill="#8a8c8a" opacity="0.2"/></g>
<g filter="url(#blur05)"><path d="M67.9 974.2V993.2M67.9 1091.2V1072.2M76.8 974.1V993.1M76.8 1091.1V1072.1M85.7 974.0V993.0M85.7 1091.0V1072.0M94.6 973.8V992.8M94.6 1090.9V1071.9M103.5 973.7V997.7M103.5 1090.8V1066.8M112.4 973.6V992.6M112.4 1090.8V1071.8M121.3 973.5V992.5M121.3 1090.7V1071.7M130.2 973.4V992.4M130.2 1090.6V1071.6M139.1 973.3V992.3M139.1 1090.5V1071.5M157.0 973.1V992.1M157.0 1090.3V1071.3M165.9 973.0V992.0M165.9 1090.3V1071.3M174.9 972.9V991.9M174.9 1090.2V1071.2M183.9 972.8V991.8M183.9 1090.1V1071.1M192.8 972.7V996.7M192.8 1090.0V1066.0M201.8 972.6V991.6M201.8 1089.9V1070.9M210.8 972.5V991.5M210.8 1089.8V1070.8M219.8 972.4V991.4M219.8 1089.8V1070.8M228.7 972.2V991.2M228.7 1089.7V1070.7M246.5 972.0V991.0M246.5 1089.5V1070.5M255.3 971.9V990.9M255.3 1089.4V1070.4M264.1 971.8V990.8M264.1 1089.3V1070.3M272.9 971.7V990.7M272.9 1089.3V1070.3M281.7 971.6V995.6M281.7 1089.2V1065.2M290.5 971.5V990.5M290.5 1089.1V1070.1M299.3 971.4V990.4M299.3 1089.0V1070.0M308.1 971.3V990.3M308.1 1088.9V1069.9M316.9 971.2V990.2M316.9 1088.9V1069.9M334.0 971.1V990.1M334.0 1088.8V1069.8M342.3 971.0V990.0M342.3 1088.7V1069.7M350.6 970.9V989.9M350.6 1088.7V1069.7M358.9 970.8V989.8M358.9 1088.6V1069.6M367.2 970.7V994.7M367.2 1088.6V1064.6M375.6 970.6V989.6M375.6 1088.5V1069.5M383.9 970.6V989.6M383.9 1088.4V1069.4M392.2 970.5V989.5M392.2 1088.4V1069.4M400.5 970.4V989.4M400.5 1088.3V1069.3M417.4 970.2V989.2M417.4 1088.2V1069.2M426.1 970.1V989.1M426.1 1088.2V1069.2M434.7 970.1V989.1M434.7 1088.1V1069.1M443.4 970.0V989.0M443.4 1088.0V1069.0M452.0 969.9V993.9M452.0 1088.0V1064.0M460.6 969.8V988.8M460.6 1087.9V1068.9M469.3 969.7V988.7M469.3 1087.9V1068.9M477.9 969.6V988.6M477.9 1087.8V1068.8M486.6 969.5V988.5M486.6 1087.8V1068.8M503.8 969.4V988.4M503.8 1087.6V1068.6M512.5 969.3V988.3M512.5 1087.6V1068.6M521.1 969.2V988.2M521.1 1087.5V1068.5M529.7 969.1V988.1M529.7 1087.5V1068.5M538.4 969.0V993.0M538.4 1087.4V1063.4M547.0 969.0V988.0M547.0 1087.4V1068.4M555.6 968.9V987.9M555.6 1087.3V1068.3M564.2 968.8V987.8M564.2 1087.2V1068.2M572.9 968.8V987.8M572.9 1087.2V1068.2M590.0 968.7V987.7M590.0 1087.1V1068.1M598.4 968.6V987.6M598.4 1087.0V1068.0M606.9 968.5V987.5M606.9 1087.0V1068.0M615.4 968.5V987.5M615.4 1086.9V1067.9M623.9 968.4V992.4M623.9 1086.8V1062.8M632.3 968.3V987.3M632.3 1086.8V1067.8M640.8 968.3V987.3M640.8 1086.7V1067.7M649.3 968.2V987.2M649.3 1086.7V1067.7M657.7 968.2V987.2M657.7 1086.6V1067.6M674.5 968.0V987.0M674.5 1086.5V1067.5M682.8 968.0V987.0M682.8 1086.4V1067.4M691.1 967.9V986.9M691.1 1086.4V1067.4M699.4 967.8V986.8M699.4 1086.3V1067.3M707.8 967.8V991.8M707.8 1086.3V1062.3M716.1 967.7V986.7M716.1 1086.2V1067.2M724.4 967.7V986.7M724.4 1086.2V1067.2M732.7 967.6V986.6M732.7 1086.1V1067.1M741.0 967.5V986.5M741.0 1086.0V1067.0M757.8 967.4V986.4M757.8 1085.9V1066.9M766.2 967.4V986.4M766.2 1085.9V1066.9M774.7 967.3V986.3M774.7 1085.8V1066.8M783.2 967.2V986.2M783.2 1085.8V1066.8M791.6 967.2V991.2M791.6 1085.7V1061.7M800.1 967.1V986.1M800.1 1085.6V1066.6M808.6 967.0V986.0M808.6 1085.6V1066.6M817.1 967.0V986.0M817.1 1085.5V1066.5M825.5 966.9V985.9M825.5 1085.5V1066.5M842.3 966.8V985.8M842.3 1085.3V1066.3M850.6 966.8V985.8M850.6 1085.3V1066.3M858.9 966.7V985.7M858.9 1085.2V1066.2M867.2 966.7V985.7M867.2 1085.2V1066.2M875.5 966.6V990.6M875.5 1085.1V1061.1M883.8 966.6V985.6M883.8 1085.1V1066.1M892.1 966.5V985.5M892.1 1085.0V1066.0M900.4 966.5V985.5M900.4 1084.9V1065.9M908.7 966.4V985.4M908.7 1084.9V1065.9M925.5 966.3V985.3M925.5 1084.8V1065.8M934.0 966.3V985.3M934.0 1084.7V1065.7M942.4 966.2V985.2M942.4 1084.7V1065.7M950.9 966.2V985.2M950.9 1084.6V1065.6M959.4 966.1V990.1M959.4 1084.5V1060.5M967.9 966.1V985.1M967.9 1084.5V1065.5M976.4 966.0V985.0M976.4 1084.4V1065.4M984.8 966.0V985.0M984.8 1084.4V1065.4M993.3 965.9V984.9M993.3 1084.3V1065.3M1010.2 965.8V984.8M1010.2 1084.2V1065.2M1018.5 965.8V984.8M1018.5 1084.2V1065.2M1026.9 965.8V984.8M1026.9 1084.1V1065.1M1035.2 965.8V984.8M1035.2 1084.1V1065.1M1043.6 965.8V989.8M1043.6 1084.0V1060.0M1052.0 965.7V984.7M1052.0 1084.0V1065.0M1060.3 965.7V984.7M1060.3 1083.9V1064.9M1068.7 965.7V984.7M1068.7 1083.9V1064.9M1077.0 965.7V984.7M1077.0 1083.9V1064.9M1093.8 965.7V984.7M1093.8 1083.8V1064.8M1102.1 965.7V984.7M1102.1 1083.7V1064.7M1110.5 965.7V984.7M1110.5 1083.7V1064.7M1118.8 965.7V984.7M1118.8 1083.6V1064.6M1127.2 965.7V989.7M1127.2 1083.6V1059.6M1135.6 965.6V984.6M1135.6 1083.5V1064.5M1143.9 965.6V984.6M1143.9 1083.5V1064.5M1152.3 965.6V984.6M1152.3 1083.5V1064.5M1160.6 965.6V984.6M1160.6 1083.4V1064.4M1177.0 965.6V984.6M1177.0 1083.3V1064.3M1185.0 965.6V984.6M1185.0 1083.3V1064.3M1193.1 965.6V984.6M1193.1 1083.2V1064.2M1201.1 965.6V984.6M1201.1 1083.2V1064.2M1209.1 965.6V989.6M1209.1 1083.2V1059.2M1217.1 965.5V984.5M1217.1 1083.1V1064.1M1225.1 965.5V984.5M1225.1 1083.1V1064.1M1233.2 965.5V984.5M1233.2 1083.0V1064.0M1241.2 965.5V984.5M1241.2 1083.0V1064.0M1256.9 965.5V984.5M1256.9 1082.9V1063.9M1264.6 965.5V984.5M1264.6 1082.9V1063.9M1272.2 965.5V984.5M1272.2 1082.8V1063.8M1279.9 965.5V984.5M1279.9 1082.8V1063.8M1287.6 965.5V989.5M1287.6 1082.8V1058.8M1295.3 965.6V984.6M1295.3 1082.7V1063.7M1303.0 965.6V984.6M1303.0 1082.7V1063.7M1310.6 965.6V984.6M1310.6 1082.6V1063.6M1318.3 965.6V984.6M1318.3 1082.6V1063.6M1334.0 965.6V984.6M1334.0 1082.5V1063.5M1342.0 965.6V984.6M1342.0 1082.5V1063.5M1350.0 965.6V984.6M1350.0 1082.4V1063.4M1358.0 965.6V984.6M1358.0 1082.4V1063.4M1366.0 965.6V984.6M1366.0 1082.3V1063.3M1374.0 965.7V984.7M1374.0 1082.3V1063.3M1382.0 965.7V984.7M1382.0 1082.3V1063.3" stroke="#2a2c2b" stroke-width="2.2" opacity="0.8"/>
<path d="M148.0 973.2V1001.2M148.0 1090.4V1054.4M237.7 972.1V1000.1M237.7 1089.6V1053.6M325.7 971.1V999.1M325.7 1088.8V1052.8M408.8 970.3V998.3M408.8 1088.3V1052.3M495.2 969.4V997.4M495.2 1087.7V1051.7M581.5 968.7V996.7M581.5 1087.1V1051.1M666.2 968.1V996.1M666.2 1086.6V1050.6M749.3 967.5V995.5M749.3 1086.0V1050.0M834.0 966.9V994.9M834.0 1085.4V1049.4M917.0 966.4V994.4M917.0 1084.8V1048.8M1001.8 965.9V993.9M1001.8 1084.3V1048.3M1085.4 965.7V993.7M1085.4 1083.8V1047.8M1169.0 965.6V993.6M1169.0 1083.4V1047.4M1249.2 965.5V993.5M1249.2 1083.0V1047.0" stroke="#262827" stroke-width="1.6" opacity="0.75"/>
<path d="M148.0 973.2V1090.4M237.7 972.1V1089.6M325.7 971.1V1088.8M408.8 970.3V1088.3M495.2 969.4V1087.7M581.5 968.7V1087.1M666.2 968.1V1086.6M749.3 967.5V1086.0M834.0 966.9V1085.4M917.0 966.4V1084.8M1001.8 965.9V1084.3M1085.4 965.7V1083.8M1169.0 965.6V1083.4M1249.2 965.5V1083.0" stroke="#2a2c2a" stroke-width="1.3" opacity="0.4"/></g>
<g font-family='"Liberation Sans",Arial,sans-serif' font-size="44.5" text-anchor="middle" filter="url(#blur05)">
<text transform="translate(148.0 1045.5) scale(0.9 1)" fill="#1c1c1c">1</text>
<text transform="translate(237.7 1044.4) scale(0.9 1)" fill="#1c1c1c">2</text>
<text transform="translate(325.7 1043.4) scale(0.9 1)" fill="#1c1c1c">3</text>
<text transform="translate(408.8 1042.6) scale(0.9 1)" fill="#1c1c1c">4</text>
<text transform="translate(495.2 1049.2) scale(0.74 1)" fill="#7a2a30" stroke="#7a2a30" stroke-width="2.6" font-size="52">5</text>
<text transform="translate(581.5 1041.0) scale(0.9 1)" fill="#1c1c1c">6</text>
<text transform="translate(666.2 1040.4) scale(0.9 1)" fill="#1c1c1c">7</text>
<text transform="translate(749.3 1039.8) scale(0.9 1)" fill="#1c1c1c">8</text>
<text transform="translate(834.0 1039.2) scale(0.9 1)" fill="#1c1c1c">9</text>
<text transform="translate(917.0 1046.2) scale(0.74 1)" fill="#7a2a30" stroke="#7a2a30" stroke-width="2.6" font-size="52">10</text>
<text transform="translate(1001.8 1038.2) scale(0.9 1)" fill="#1c1c1c">1</text>
<text transform="translate(1085.4 1038.0) scale(0.9 1)" fill="#1c1c1c">2</text>
<text transform="translate(1169.0 1037.9) scale(0.9 1)" fill="#1c1c1c">3</text>
<text transform="translate(1249.2 1037.8) scale(0.9 1)" fill="#1c1c1c">4</text>
<text transform="translate(1326.0 1045.4) scale(0.74 1)" fill="#7a2a30" stroke="#7a2a30" stroke-width="2.6" font-size="52">15</text>
</g>
<text x="1355" y="1036" font-family='"Liberation Sans",Arial,sans-serif' font-size="16" fill="#2a2a2a">cm</text>
<text x="1369" y="988" font-family='"Liberation Sans",Arial,sans-serif' font-weight="bold" font-size="22" fill="#1e1e1e" textLength="47" lengthAdjust="spacingAndGlyphs" filter="url(#blur05)">deli</text>
<ellipse cx="1442" cy="1025.9" rx="33.6" ry="31.5" fill="#cfd0d3" filter="url(#blur1)"/>
</svg></body></html>
